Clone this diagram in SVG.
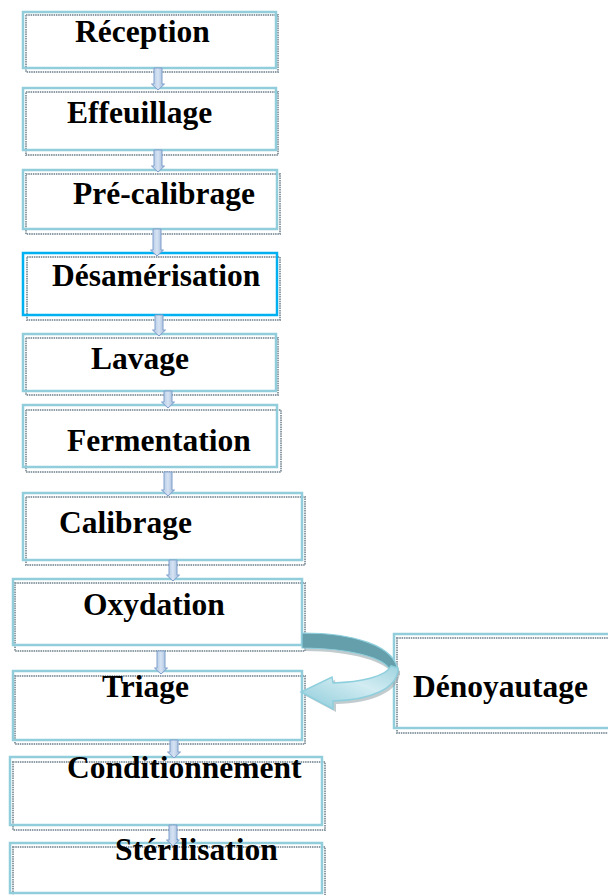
<svg xmlns="http://www.w3.org/2000/svg" width="608" height="895" viewBox="0 0 608 895">
<style>
.bg{fill:#ffffff;stroke:none}
.sh{fill:none;stroke:#8f9ea6;stroke-width:2;stroke-dasharray:1.5 0.8}
.bx{fill:none;stroke:#92cddc;stroke-width:2.5}
.bx2{fill:none;stroke:#00b0f0;stroke-width:2.5}
.t{font-family:"Liberation Serif","Times New Roman",serif;font-weight:bold;font-size:31.5px;fill:#000}
.ar{fill:url(#ag);stroke:#7f9fcb;stroke-width:1}
</style>
<defs>
<linearGradient id="ag" x1="0" y1="0" x2="1" y2="0">
<stop offset="0" stop-color="#a9c2e2"/><stop offset="0.5" stop-color="#d6e3f3"/><stop offset="1" stop-color="#95b3d7"/>
</linearGradient>
<linearGradient id="cg" x1="0" y1="1" x2="1" y2="0">
<stop offset="0" stop-color="#8ccbda"/><stop offset="0.6" stop-color="#d2ecf2"/><stop offset="1" stop-color="#9fd3df"/>
</linearGradient>
</defs>
<rect width="608" height="895" fill="#ffffff"/>
<g id="reception"><rect class="bg" x="23" y="12" width="253" height="56"/><rect class="sh" x="26" y="15" width="252" height="57"/><rect class="bx" x="23" y="12" width="253" height="56"/><text class="t" x="75" y="42">Réception</text></g>
<g id="effeuillage"><rect class="bg" x="23" y="88" width="253" height="62"/><rect class="sh" x="26" y="92" width="252" height="63"/><rect class="bx" x="23" y="88" width="253" height="62"/><text class="t" x="67" y="123">Effeuillage</text></g>
<g id="precalibrage"><rect class="bg" x="23" y="170" width="254" height="59"/><rect class="sh" x="26" y="174" width="254" height="60"/><rect class="bx" x="23" y="170" width="254" height="59"/><text class="t" x="73" y="204">Pré-calibrage</text></g>
<g id="desamerisation"><rect class="bg" x="23" y="253" width="254" height="62"/><rect class="sh" x="27" y="257" width="253" height="63"/><rect class="bx2" x="23" y="253" width="254" height="62"/><text class="t" x="52" y="286">Désamérisation</text></g>
<g id="lavage"><rect class="bg" x="23" y="334" width="253" height="57"/><rect class="sh" x="26" y="338" width="252" height="57"/><rect class="bx" x="23" y="334" width="253" height="57"/><text class="t" x="91" y="369">Lavage</text></g>
<g id="fermentation"><rect class="bg" x="23" y="405" width="254" height="62"/><rect class="sh" x="26" y="410" width="255" height="62"/><rect class="bx" x="23" y="405" width="254" height="62"/><text class="t" x="67" y="451">Fermentation</text></g>
<g id="calibrage"><rect class="bg" x="23" y="493" width="279" height="67"/><rect class="sh" x="26" y="497" width="279" height="68"/><rect class="bx" x="23" y="493" width="279" height="67"/><text class="t" x="59" y="533">Calibrage</text></g>
<g id="oxydation"><rect class="bg" x="13" y="579" width="289" height="66"/><rect class="sh" x="15" y="583" width="290" height="68"/><rect class="bx" x="13" y="579" width="289" height="66"/><text class="t" x="83" y="615">Oxydation</text></g>
<g id="triage"><rect class="bg" x="13" y="671" width="289" height="69"/><rect class="sh" x="15" y="676" width="290" height="68"/><rect class="bx" x="13" y="671" width="289" height="69"/><text class="t" x="102" y="697">Triage</text></g>
<g id="denoyautage"><rect class="bg" x="394" y="634" width="230" height="94"/><rect class="sh" x="397" y="638" width="230" height="95"/><rect class="bx" x="394" y="634" width="230" height="94"/><text class="t" x="413" y="697">Dénoyautage</text></g>
<g id="conditionnement"><rect class="bg" x="10" y="757" width="312" height="68"/><rect class="sh" x="13" y="762" width="312" height="68"/><rect class="bx" x="10" y="757" width="312" height="68"/><text class="t" x="67" y="778">Conditionnement</text></g>
<g id="sterilisation"><rect class="bg" x="10" y="843" width="312" height="50"/><rect class="sh" x="13" y="847" width="312" height="52"/><rect class="bx" x="10" y="843" width="312" height="50"/><text class="t" x="115" y="860">Stérilisation</text></g>
<g id="connectors">
<path class="ar" d="M154,68 H162 V84 H164.5 L158,90 L151.5,84 H154 Z"/>
<path class="ar" d="M154,150 H162 V166 H164.5 L158,172 L151.5,166 H154 Z"/>
<path class="ar" d="M153,229 H161 V250 H163.5 L157,256 L150.5,250 H153 Z"/>
<path class="ar" d="M155,315 H163 V330 H165.5 L159,336 L152.5,330 H155 Z"/>
<path class="ar" d="M164,391 H172 V402 H174.5 L168,408 L161.5,402 H164 Z"/>
<path class="ar" d="M164,472 H172 V490 H174.5 L168,496 L161.5,490 H164 Z"/>
<path class="ar" d="M169,560 H177 V575 H179.5 L173,581 L166.5,575 H169 Z"/>
<path class="ar" d="M157,651 H165 V668 H167.5 L161,674 L154.5,668 H157 Z"/>
<path class="ar" d="M170,740 H178 V752 H180.5 L174,758 L167.5,752 H170 Z"/>
<path class="ar" d="M169,825 H177 V840 H179.5 L173,846 L166.5,840 H169 Z"/>
<g id="curved-arrow">
<path d="M305,636 C355,636 398,648 400,675 L393,675 C388,662 352,651 305,651 Z" fill="#9aa8ae" opacity="0.6"/>
<path d="M302,633 C352,633 396,645 398,672 L390,670 C385,658 350,648 302,648 Z" fill="#649fab" stroke="#8ecfdd" stroke-width="1.2"/>
<path d="M400,671 C400,692 372,703 336,704 L336,712 L304,695 L335,680 L336,686 C362,685 388,680 393,669 Z" fill="#9aa8ae" opacity="0.6"/>
<path d="M398,668 C398,689 370,700 333,701 L333,709 L301,692 L332,677 L333,683 C360,682 386,677 391,666 Z" fill="url(#cg)" stroke="#8ecfdd" stroke-width="1.5"/>
</g>
</g>
</svg>
